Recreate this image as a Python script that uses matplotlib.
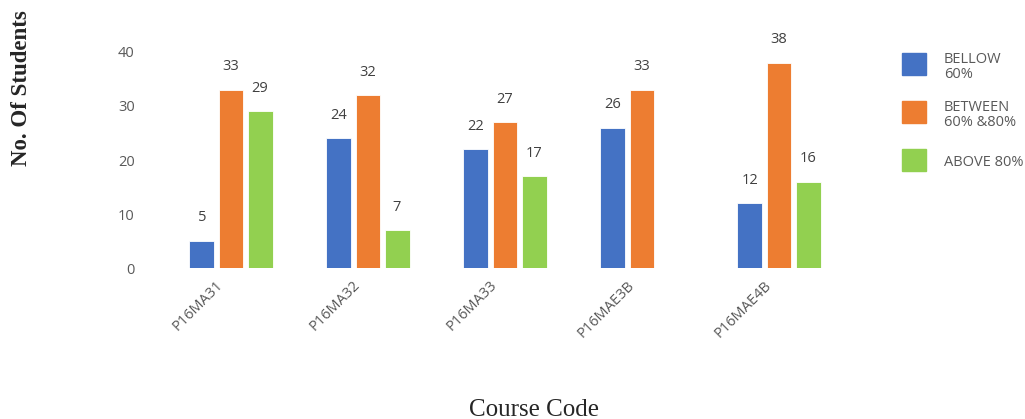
import numpy as np
import matplotlib.pyplot as plt
from matplotlib.patches import Rectangle

# datos
courses = ['P16MA31', 'P16MA32', 'P16MA33', 'P16MAE3B', 'P16MAE4B']
series = ['BELLOW\n60%', 'BETWEEN\n60% &80%', 'ABOVE 80%']
bellow_60 = [5, 24, 22, 26, 12]
between_60_80 = [33, 32, 27, 33, 38]
above_80 = [29, 7, 17, None, 16]
colors = ['#4472C4', '#ED7D31', '#92D050']

W, H = 1025, 419
fig = plt.figure(figsize=(W / 100, H / 100), dpi=100)
ax = fig.add_axes([162.5 / W, 1 - 268 / H, 685 / W, 216 / H])

x = np.arange(len(courses))
width = 0.182
step = 0.212
tick_col = '#595959'

for i, (vals, col) in enumerate(zip([bellow_60, between_60_80, above_80], colors)):
    pos = [xi + (i - 1) * step for xi, v in zip(x, vals) if v is not None]
    hv = [v for v in vals if v is not None]
    bars = ax.bar(pos, hv, width=width, color=col, edgecolor='white', linewidth=0.6)
    for b, v in zip(bars, hv):
        ax.text(b.get_x() + b.get_width() / 2, v + 2.9, str(v), ha='center', va='bottom',
                fontsize=10.5, color='#404040', family='Open Sans')

ax.set_xlim(-0.5, len(courses) - 0.5)
ax.set_ylim(0, 40)
ax.set_yticks([0, 10, 20, 30, 40])
# etiquetas un poco a la izquierda del centro del grupo, como en el original
ax.set_xticks(x - 0.11)
ax.set_xticklabels(courses, rotation=45, ha='right', rotation_mode='anchor',
                   fontsize=10.5, color=tick_col, family='Open Sans')
for lbl in ax.get_yticklabels():
    lbl.set_family('Open Sans')
ax.tick_params(axis='y', length=0, pad=20, labelsize=10.5, labelcolor=tick_col)
ax.tick_params(axis='x', length=0, pad=7)
for s in ax.spines.values():
    s.set_visible(False)

fig.text(22 / W, 1 - 88 / H, 'No. Of Students', rotation=90, ha='center', va='center',
         fontsize=16.5, fontweight='bold', family='Liberation Serif', color='#262626')
fig.text(534 / W, 1 - 410 / H, 'Course Code', ha='center', va='center',
         fontsize=18, family='Liberation Serif', color='#262626')

# leyenda
for i, (name, col) in enumerate(zip(series, colors)):
    yc = 64 + i * 48
    fig.add_artist(Rectangle((902 / W, 1 - (yc + 11) / H), 24 / W, 22 / H,
                             transform=fig.transFigure, color=col))
    fig.text(944 / W, 1 - (yc + 3) / H, name, ha='left', va='center', fontsize=10.5,
             color=tick_col, family='Open Sans', linespacing=1.0)

fig.savefig('out.png', dpi=100)
